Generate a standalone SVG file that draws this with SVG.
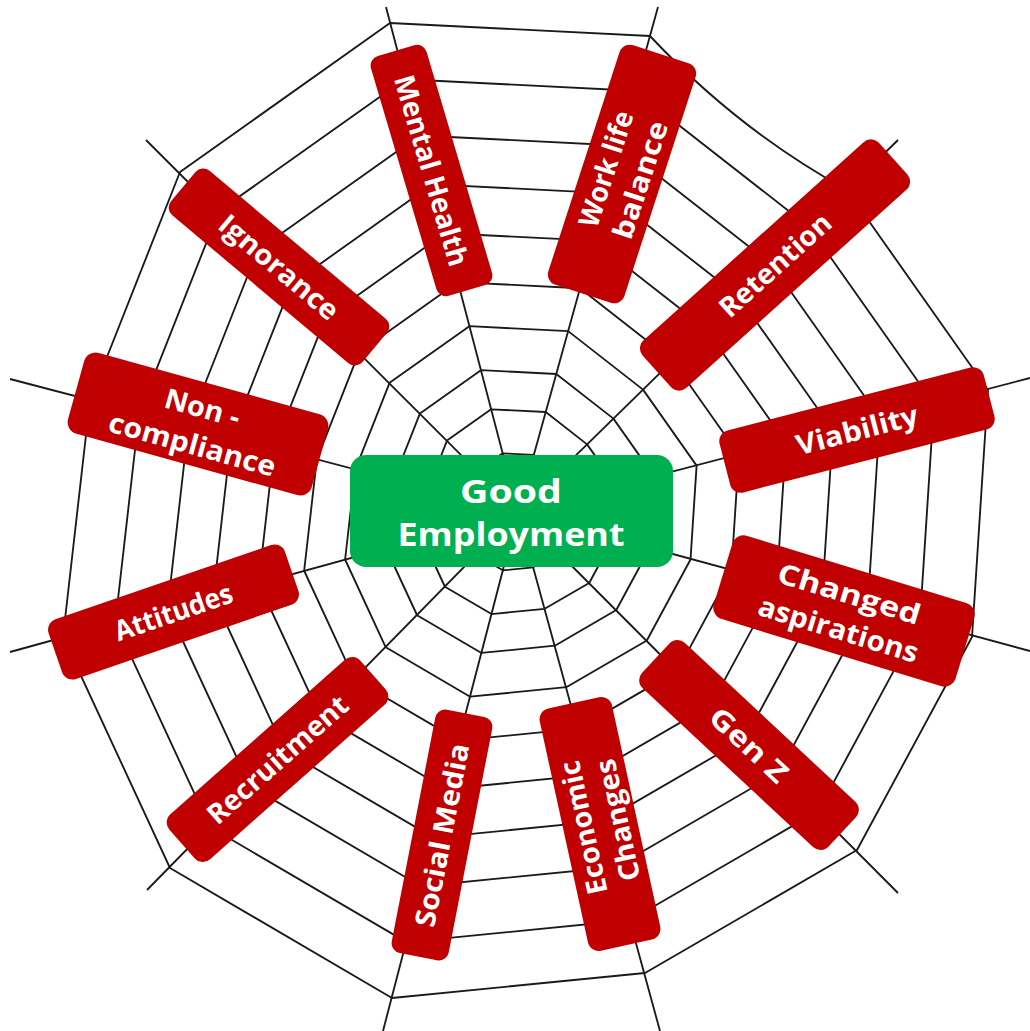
<svg xmlns="http://www.w3.org/2000/svg" xmlns:xlink="http://www.w3.org/1999/xlink" width="1030" height="1031" viewBox="0 0 1030 1031">
<style>
.web{fill:none;stroke:#1a1a1a;stroke-linejoin:round}
.spoke{stroke:#1a1a1a;stroke-width:1.85}
.box{fill:#C00000}
.hub{fill:#00B050}
.lbl{font-family:"Open Sans","Liberation Sans",sans-serif;font-weight:700;font-size:28px;fill:#fff;text-anchor:middle}
.hubt{font-family:"Open Sans","Liberation Sans",sans-serif;font-weight:700;font-size:33px;fill:#fff;text-anchor:middle}
</style>
<defs>
<path id="ring" d="M-128,-489 L132,-476 L329,-322 L470,-122 L454,125 L339,338 L127,461 L-126,486 L-348,356 L-455,125 L-428,-112 L-338,-340 Z"/>
</defs>
<rect width="1030" height="1031" fill="#fff"/>
<g id="connectors">
<g class="spoke">
<line x1="518" y1="512" x2="386" y2="7"/>
<line x1="518" y1="512" x2="658" y2="7"/>
<line x1="518" y1="512" x2="898" y2="140"/>
<line x1="518" y1="512" x2="1030" y2="378"/>
<line x1="518" y1="512" x2="1030" y2="651"/>
<line x1="518" y1="512" x2="898" y2="893"/>
<line x1="518" y1="512" x2="660" y2="1031"/>
<line x1="518" y1="512" x2="383" y2="1031"/>
<line x1="518" y1="512" x2="147" y2="890"/>
<line x1="518" y1="512" x2="10" y2="652"/>
<line x1="518" y1="512" x2="10" y2="379"/>
<line x1="518" y1="512" x2="146" y2="140"/>
</g>
<g class="web">
<use xlink:href="#ring" href="#ring" transform="translate(518,512) scale(0.12)" stroke-width="15.4"/>
<use xlink:href="#ring" href="#ring" transform="translate(518,512) scale(0.21)" stroke-width="8.81"/>
<use xlink:href="#ring" href="#ring" transform="translate(518,512) scale(0.29)" stroke-width="6.38"/>
<use xlink:href="#ring" href="#ring" transform="translate(518,512) scale(0.38)" stroke-width="4.87"/>
<use xlink:href="#ring" href="#ring" transform="translate(518,512) scale(0.47)" stroke-width="3.94"/>
<use xlink:href="#ring" href="#ring" transform="translate(518,512) scale(0.57)" stroke-width="3.25"/>
<use xlink:href="#ring" href="#ring" transform="translate(518,512) scale(0.67)" stroke-width="2.76"/>
<use xlink:href="#ring" href="#ring" transform="translate(518,512) scale(0.77)" stroke-width="2.40"/>
<use xlink:href="#ring" href="#ring" transform="translate(518,512) scale(0.885)" stroke-width="2.09"/>
<path stroke-width="1.85" d="M390,23 L650,36 Q738.5,130.3 847,190 L988,390 L972,637 L857,850 L645,973 L392,998 L170,868 L63,637 L90,400 L180,172 Z"/>
</g>
</g>
<g id="n-mental-health" transform="translate(431.5,170.5) rotate(73.5)"><rect class="box" x="-125" y="-29" width="250" height="58" rx="10"/><text class="lbl" x="0" y="10" textLength="198" lengthAdjust="spacingAndGlyphs">Mental Health</text></g>
<g id="n-work-life-balance" transform="translate(622,174) rotate(-72)"><rect class="box" x="-126" y="-40" width="252" height="80" rx="11"/><text class="lbl" x="0" y="-7" textLength="120" lengthAdjust="spacingAndGlyphs">Work life</text><text class="lbl" x="0" y="29" textLength="122" lengthAdjust="spacingAndGlyphs">balance</text></g>
<g id="n-retention" transform="translate(775,265) rotate(-42)"><rect class="box" x="-159" y="-32" width="318" height="64" rx="11"/><text class="lbl" x="0" y="10" textLength="140" lengthAdjust="spacingAndGlyphs">Retention</text></g>
<g id="n-viability" transform="translate(857,430) rotate(-14.5)"><rect class="box" x="-136.5" y="-32" width="273" height="64" rx="11"/><text class="lbl" x="0" y="10" textLength="125" lengthAdjust="spacingAndGlyphs">Viability</text></g>
<g id="n-changed-aspirations" transform="translate(844,611) rotate(17)"><rect class="box" x="-126.5" y="-43.5" width="253" height="87" rx="12"/><text class="lbl" x="0" y="-8" textLength="148" lengthAdjust="spacingAndGlyphs">Changed</text><text class="lbl" x="0" y="29" textLength="166" lengthAdjust="spacingAndGlyphs">aspirations</text></g>
<g id="n-gen-z" transform="translate(749,745) rotate(43)"><rect class="box" x="-127.5" y="-31" width="255" height="62" rx="11"/><text class="lbl" x="0" y="10" textLength="96" lengthAdjust="spacingAndGlyphs">Gen Z</text></g>
<g id="n-economic-changes" transform="translate(600,824) rotate(-102.3)"><rect class="box" x="-124" y="-37" width="248" height="74" rx="11"/><text class="lbl" x="0" y="-7" textLength="136" lengthAdjust="spacingAndGlyphs">Economic</text><text class="lbl" x="0" y="28" textLength="124" lengthAdjust="spacingAndGlyphs">Changes</text></g>
<g id="n-social-media" transform="translate(442,835) rotate(-79)"><rect class="box" x="-124" y="-29" width="248" height="58" rx="10"/><text class="lbl" x="0" y="10" textLength="186" lengthAdjust="spacingAndGlyphs">Social Media</text></g>
<g id="n-recruitment" transform="translate(277.5,759.5) rotate(-41.5)"><rect class="box" x="-127.5" y="-30" width="255" height="60" rx="11"/><text class="lbl" x="0" y="10" textLength="178" lengthAdjust="spacingAndGlyphs">Recruitment</text></g>
<g id="n-attitudes" transform="translate(173.5,612) rotate(-19)"><rect class="box" x="-125" y="-31.5" width="250" height="63" rx="11"/><text class="lbl" x="0" y="10" textLength="123" lengthAdjust="spacingAndGlyphs">Attitudes</text></g>
<g id="n-non-compliance" transform="translate(198,424) rotate(15.5)"><rect class="box" x="-126.5" y="-42" width="253" height="84" rx="12"/><text class="lbl" x="0" y="-7" textLength="77" lengthAdjust="spacingAndGlyphs">Non -</text><text class="lbl" x="0" y="31" textLength="172" lengthAdjust="spacingAndGlyphs">compliance</text></g>
<g id="n-ignorance" transform="translate(279,267) rotate(40)"><rect class="box" x="-125" y="-29" width="250" height="58" rx="10"/><text class="lbl" x="0" y="10" textLength="147" lengthAdjust="spacingAndGlyphs">Ignorance</text></g>
<g id="n-good-employment"><rect class="hub" x="350" y="455" width="323" height="112" rx="16"/><text class="hubt" x="511" y="503" textLength="102" lengthAdjust="spacingAndGlyphs">Good</text><text class="hubt" x="511" y="546" textLength="227" lengthAdjust="spacingAndGlyphs">Employment</text></g>
</svg>
